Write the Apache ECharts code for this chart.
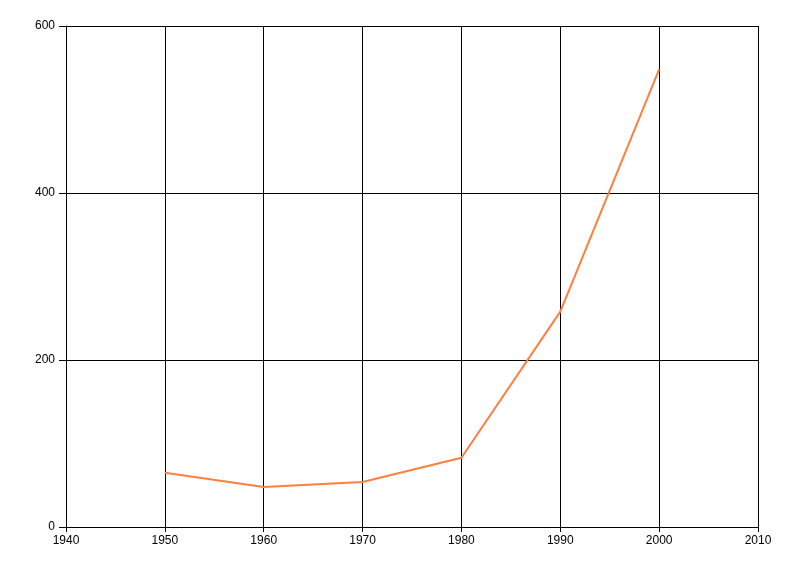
<!DOCTYPE html>
<html>
<head>
<meta charset="utf-8">
<script src="https://cdn.jsdelivr.net/npm/echarts@6/dist/echarts.min.js"></script>
<style>html,body{margin:0;padding:0;background:#fff;}#c{width:800px;height:576px;}</style>
</head>
<body>
<div id="c"></div>
<script>
var years = [1950, 1960, 1970, 1980, 1990, 2000];
var values = [65, 48, 54, 83, 258, 548];
var xTicks = [1940, 1950, 1960, 1970, 1980, 1990, 2000, 2010];
var yTicks = [0, 200, 400, 600];

var chart = echarts.init(document.getElementById('c'), null, {renderer: 'canvas'});
chart.setOption({
  animation: false,
  backgroundColor: '#fff',
  grid: {left: 66, right: 42, top: 26, bottom: 49, show: false},
  xAxis: {
    type: 'value', min: xTicks[0], max: xTicks[xTicks.length - 1], interval: 10,
    axisLine: {show: true, onZero: false, lineStyle: {color: '#000', width: 1}},
    axisTick: {show: true, length: 5, lineStyle: {color: '#000'}},
    axisLabel: {color: '#000', fontSize: 12, fontFamily: 'Liberation Sans, Arial, sans-serif', margin: 8,
      formatter: function (v) { return String(v); }},
    splitLine: {show: true, lineStyle: {color: '#000', width: 1}}
  },
  yAxis: {
    type: 'value', min: yTicks[0], max: yTicks[yTicks.length - 1], interval: 200,
    axisLine: {show: true, lineStyle: {color: '#000', width: 1}},
    axisTick: {show: true, length: 7, lineStyle: {color: '#000'}},
    axisLabel: {color: '#000', fontSize: 12, fontFamily: 'Liberation Sans, Arial, sans-serif', margin: 11,
      formatter: function (v) { return String(v); }},
    splitLine: {show: true, lineStyle: {color: '#000', width: 1}}
  },
  series: [{
    type: 'line',
    data: years.map(function (y, i) { return [y, values[i]]; }),
    showSymbol: false,
    symbol: 'none',
    lineStyle: {color: '#FF7F3F', width: 2},
    itemStyle: {color: '#FF7F3F'}
  }]
});
</script>
</body>
</html>
